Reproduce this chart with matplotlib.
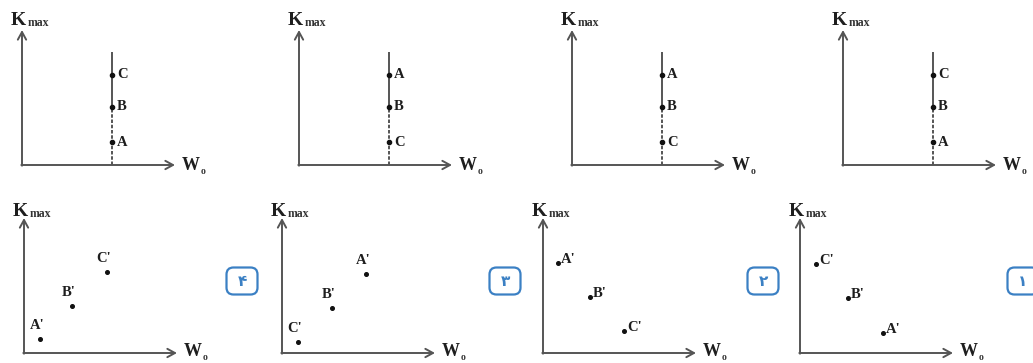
import matplotlib
matplotlib.use("Agg")
import matplotlib.pyplot as plt
from matplotlib.patches import FancyBboxPatch

# ---------------- data ----------------
# top row: three points on one vertical line (same W0), listed bottom -> top
top_labels = [["A", "B", "C"], ["C", "B", "A"], ["C", "B", "A"], ["A", "B", "C"]]
top_k = [23, 58, 90]          # K_max of the three points (bottom -> top)
top_w0 = 90                    # common W0 of the points
top_line_top = 113             # upper end of the vertical line

# bottom row: primed points (W0, K_max)
bot_labels = [["A'", "B'", "C'"], ["C'", "B'", "A'"], ["A'", "B'", "C'"], ["C'", "B'", "A'"]]
bot_w0 = [[16, 48, 83], [16, 50, 84], [15, 47, 81], [16, 48, 83]]
bot_k = [[14, 47, 81], [11, 45, 79], [90, 56, 22], [89, 55, 20]]
bot_label_side = ["above", "above", "right", "right"]

badge_text = ["۴", "۳", "۲", "۱"]

axis_len_x = 153
axis_len_y = 135

# ---------------- layout ----------------
W, H = 1033, 363
top_origins = [(22, 165), (299, 165), (572, 165), (843, 165)]
bot_origins = [(24, 353), (282, 353), (543, 353), (800, 353)]
badge_centers = [(242, 281), (505, 281), (763, 281), (1023, 281)]

LINE = "#555555"
TXT = "#1e1e1e"
BLUE = "#3b80c4"
SERIF = "Liberation Serif"

fig = plt.figure(figsize=(W / 100, H / 100), dpi=100)
fig.patch.set_facecolor("white")


def make_axes(ox, oy):
    x0, x1, ytop, ybot = ox - 30, ox + 200, oy - 160, oy + 10
    ax = fig.add_axes([x0 / W, (H - ybot) / H, (x1 - x0) / W, (ybot - ytop) / H])
    ax.set_xlim(-30, 200)
    ax.set_ylim(-10, 160)
    ax.axis("off")
    return ax


def draw_frame(ax, kmax_dy, w_dy):
    ap = dict(arrowstyle="->,head_length=0.55,head_width=0.3", lw=1.4,
              color=LINE, shrinkA=0, shrinkB=0)
    ax.annotate("", xy=(axis_len_x, 0), xytext=(-0.7, 0), arrowprops=ap,
                annotation_clip=False)
    ax.annotate("", xy=(0, axis_len_y), xytext=(0, -0.7), arrowprops=ap,
                annotation_clip=False)
    kt = ax.text(-11, kmax_dy, "K", fontsize=14, fontweight="bold",
                 family=SERIF, color=TXT, ha="left", va="baseline", clip_on=False)
    ax.annotate("max", xy=(1, 0), xycoords=kt, xytext=(1, 0),
                textcoords="offset points", fontsize=8.5, fontweight="bold",
                family=SERIF, color="#333333", ha="left", va="bottom")
    wt = ax.text(axis_len_x + 7, w_dy, "W", fontsize=13, fontweight="bold",
                 family=SERIF, color=TXT, ha="left", va="center", clip_on=False)
    ax.annotate("o", xy=(1, 0), xycoords=wt, xytext=(0.3, 2.2),
                textcoords="offset points", fontsize=7, fontweight="bold",
                family=SERIF, color="#333333", ha="left", va="center")


# top row
for (ox, oy), labels in zip(top_origins, top_labels):
    ax = make_axes(ox, oy)
    draw_frame(ax, 140, -1)
    ax.plot([top_w0, top_w0], [top_k[1] - 4, top_line_top], color=LINE, lw=1.4,
            solid_capstyle="butt")
    ax.plot([top_w0, top_w0], [0, top_k[1] - 4], color=LINE, lw=1.4,
            linestyle=(0, (1.8, 0.9)))
    ax.plot([top_w0] * 3, top_k, "o", color="#111111", ms=3)
    for k, lab in zip(top_k, labels):
        ax.text(top_w0 + 5, k, lab, fontsize=10.5, fontweight="bold",
                family=SERIF, color=TXT, ha="left", va="center")

# bottom row
for (ox, oy), labels, ws, ks, side in zip(bot_origins, bot_labels, bot_w0,
                                           bot_k, bot_label_side):
    ax = make_axes(ox, oy)
    draw_frame(ax, 137, 1)
    ax.plot(ws, ks, "o", color="#111111", ms=2.6, linestyle="none")
    for w, k, lab in zip(ws, ks, labels):
        if side == "above":
            ax.text(w - 3, k + 7, lab, fontsize=10.5, fontweight="bold",
                    family=SERIF, color=TXT, ha="center", va="bottom")
        else:
            ax.text(w + 3, k - 3, lab, fontsize=10.5, fontweight="bold",
                    family=SERIF, color=TXT, ha="left", va="bottom")

# option badges (overlay in pixel coordinates)
ov = fig.add_axes([0, 0, 1, 1], zorder=-1)
ov.set_xlim(0, W)
ov.set_ylim(H, 0)
ov.axis("off")
bw, bh = 28, 24
for (cx, cy), t in zip(badge_centers, badge_text):
    ov.add_patch(FancyBboxPatch((cx - bw / 2, cy - bh / 2), bw, bh,
                                boxstyle="round,pad=1.5,rounding_size=7",
                                fc="white", ec=BLUE, lw=1.6, clip_on=False))
    ov.text(cx, cy, t, fontsize=11, fontweight="bold", family="DejaVu Sans",
            color=BLUE, ha="center", va="center")

fig.savefig("out.png", dpi=100, facecolor="white")
